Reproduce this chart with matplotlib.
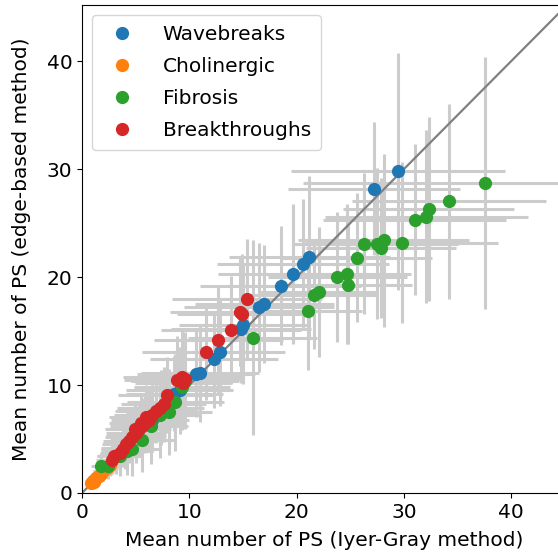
import numpy as np
import matplotlib
matplotlib.use("Agg")
import matplotlib.pyplot as plt

# Wavebreaks
wb_x = [29.45, 27.2, 21.2, 20.6, 19.7, 18.5, 17.0, 16.5, 15.0, 14.8, 12.9, 12.3,
        11.0, 10.6, 9.1, 8.6, 7.4, 6.5, 5.0, 4.0, 3.2]
wb_y = [29.8, 28.2, 21.9, 21.2, 20.3, 19.2, 17.5, 17.2, 15.6, 15.2, 13.1, 12.4,
        11.1, 11.0, 9.5, 9.2, 7.9, 6.8, 5.3, 4.2, 3.4]
wb_xe = [10.0, 8.0, 7.5, 8.0, 7.0, 7.5, 6.5, 7.0, 6.0, 6.5, 6.0, 6.0,
         5.5, 5.5, 5.0, 4.5, 4.0, 3.5, 2.8, 2.2, 1.8]
wb_ye = [11.0, 6.2, 7.5, 6.0, 6.5, 5.5, 5.5, 6.0, 5.5, 5.0, 5.0, 4.5,
         4.5, 4.0, 4.0, 3.5, 3.5, 3.0, 2.5, 2.0, 1.6]

# Cholinergic
ch_x = [0.8, 1.0, 1.1, 1.2, 1.4, 1.6, 1.8, 2.0, 2.3, 2.6]
ch_y = [0.9, 1.1, 1.0, 1.3, 1.5, 1.6, 1.8, 2.0, 2.3, 2.6]
ch_xe = [0.5, 0.6, 0.6, 0.7, 0.8, 0.9, 1.0, 1.0, 1.1, 1.2]
ch_ye = [0.5, 0.5, 0.6, 0.6, 0.7, 0.7, 0.8, 0.9, 0.9, 1.0]

# Fibrosis
fi_x = [37.6, 34.2, 32.3, 32.1, 31.0, 29.8, 28.1, 27.9, 27.5, 26.3, 25.6, 24.7,
        23.8, 24.8, 22.1, 21.6, 21.1, 15.9, 9.6, 9.3, 8.7, 8.1, 7.3, 6.4,
        5.6, 4.7, 4.2, 3.5, 2.4, 1.8]
fi_y = [28.7, 27.0, 26.3, 25.6, 25.3, 23.2, 23.4, 22.7, 23.1, 23.1, 21.8, 20.3,
        20.0, 19.3, 18.6, 18.3, 16.9, 14.4, 10.4, 9.8, 8.4, 7.5, 7.2, 6.2,
        4.9, 4.1, 3.9, 3.4, 2.5, 2.5]
fi_xe = [17.0, 9.0, 8.0, 9.5, 8.5, 9.0, 8.0, 7.0, 7.5, 6.5, 7.0, 6.0,
         6.5, 6.0, 5.5, 6.0, 5.0, 6.0, 5.0, 4.5, 4.5, 4.0, 3.8, 3.5,
         3.0, 2.6, 2.4, 2.0, 1.3, 1.0]
fi_ye = [11.7, 9.0, 8.5, 8.0, 7.0, 7.5, 8.0, 6.5, 7.0, 6.5, 6.0, 6.5,
         6.0, 5.5, 6.0, 5.0, 5.5, 9.0, 4.5, 4.0, 4.5, 4.0, 4.0, 3.5,
         3.0, 2.5, 2.2, 1.8, 1.2, 1.2]

# Breakthroughs
br_x = [15.4, 14.7, 14.9, 13.9, 12.7, 11.6, 9.3, 8.9, 9.6, 9.4, 7.9, 7.6,
        7.3, 6.9, 6.5, 6.2, 5.9, 5.6, 5.3, 5.0, 4.7, 4.4, 4.1, 3.8,
        3.5, 3.0, 2.8, 6.0, 5.5, 4.9]
br_y = [18.0, 16.8, 16.6, 15.1, 14.2, 13.1, 10.7, 10.5, 10.6, 10.2, 9.1, 8.2,
        7.9, 7.6, 7.2, 6.8, 6.5, 6.2, 5.9, 5.6, 5.2, 4.8, 4.5, 4.1,
        3.7, 3.4, 3.1, 7.0, 6.5, 5.9]
br_xe = [7.0, 6.5, 6.0, 6.5, 6.0, 6.0, 5.5, 5.0, 5.5, 4.5, 4.5, 4.0,
         4.0, 3.8, 3.5, 3.5, 3.2, 3.0, 3.0, 2.8, 2.6, 2.4, 2.2, 2.0,
         1.8, 1.6, 1.5, 3.5, 3.0, 2.8]
br_ye = [5.5, 5.0, 5.5, 5.0, 5.0, 4.5, 4.5, 4.0, 4.0, 3.5, 3.5, 3.5,
         3.2, 3.0, 3.0, 3.0, 2.8, 2.6, 2.5, 2.4, 2.2, 2.0, 1.8, 1.7,
         1.6, 1.4, 1.3, 3.0, 2.6, 2.4]

groups = [("Wavebreaks", wb_x, wb_y, wb_xe, wb_ye, "#1f77b4"),
          ("Cholinergic", ch_x, ch_y, ch_xe, ch_ye, "#ff7f0e"),
          ("Fibrosis", fi_x, fi_y, fi_xe, fi_ye, "#2ca02c"),
          ("Breakthroughs", br_x, br_y, br_xe, br_ye, "#d62728")]

lim = 45.2

fig = plt.figure(figsize=(5.58, 5.58), dpi=100)
ax = fig.add_axes([82 / 558, 65 / 558, 485 / 558, 488 / 558])

# error bars underneath everything
for name, x, y, xe, ye, c in groups:
    ax.errorbar(x, y, xerr=xe, yerr=ye, fmt='none', ecolor='#cccccc',
                elinewidth=2.2, capsize=0, zorder=1)

ax.plot([0, lim], [0, lim], color='gray', lw=1.6, zorder=2)

for name, x, y, xe, ye, c in groups:
    ax.plot(x, y, 'o', color=c, ms=8.5, label=name, zorder=3)

ax.set_xlim(0, lim)
ax.set_ylim(0, lim)
ax.set_xticks([0, 10, 20, 30, 40])
ax.set_yticks([0, 10, 20, 30, 40])
ax.tick_params(labelsize=14.5)
ax.set_xlabel('Mean number of PS (Iyer-Gray method)', fontsize=14.5, labelpad=7)
ax.set_ylabel('Mean number of PS (edge-based method)', fontsize=14.5, labelpad=11)
ax.legend(loc='upper left', fontsize=14.5, handletextpad=1.0, borderpad=0.5,
          labelspacing=0.65)

plt.savefig('out.png', dpi=100)
